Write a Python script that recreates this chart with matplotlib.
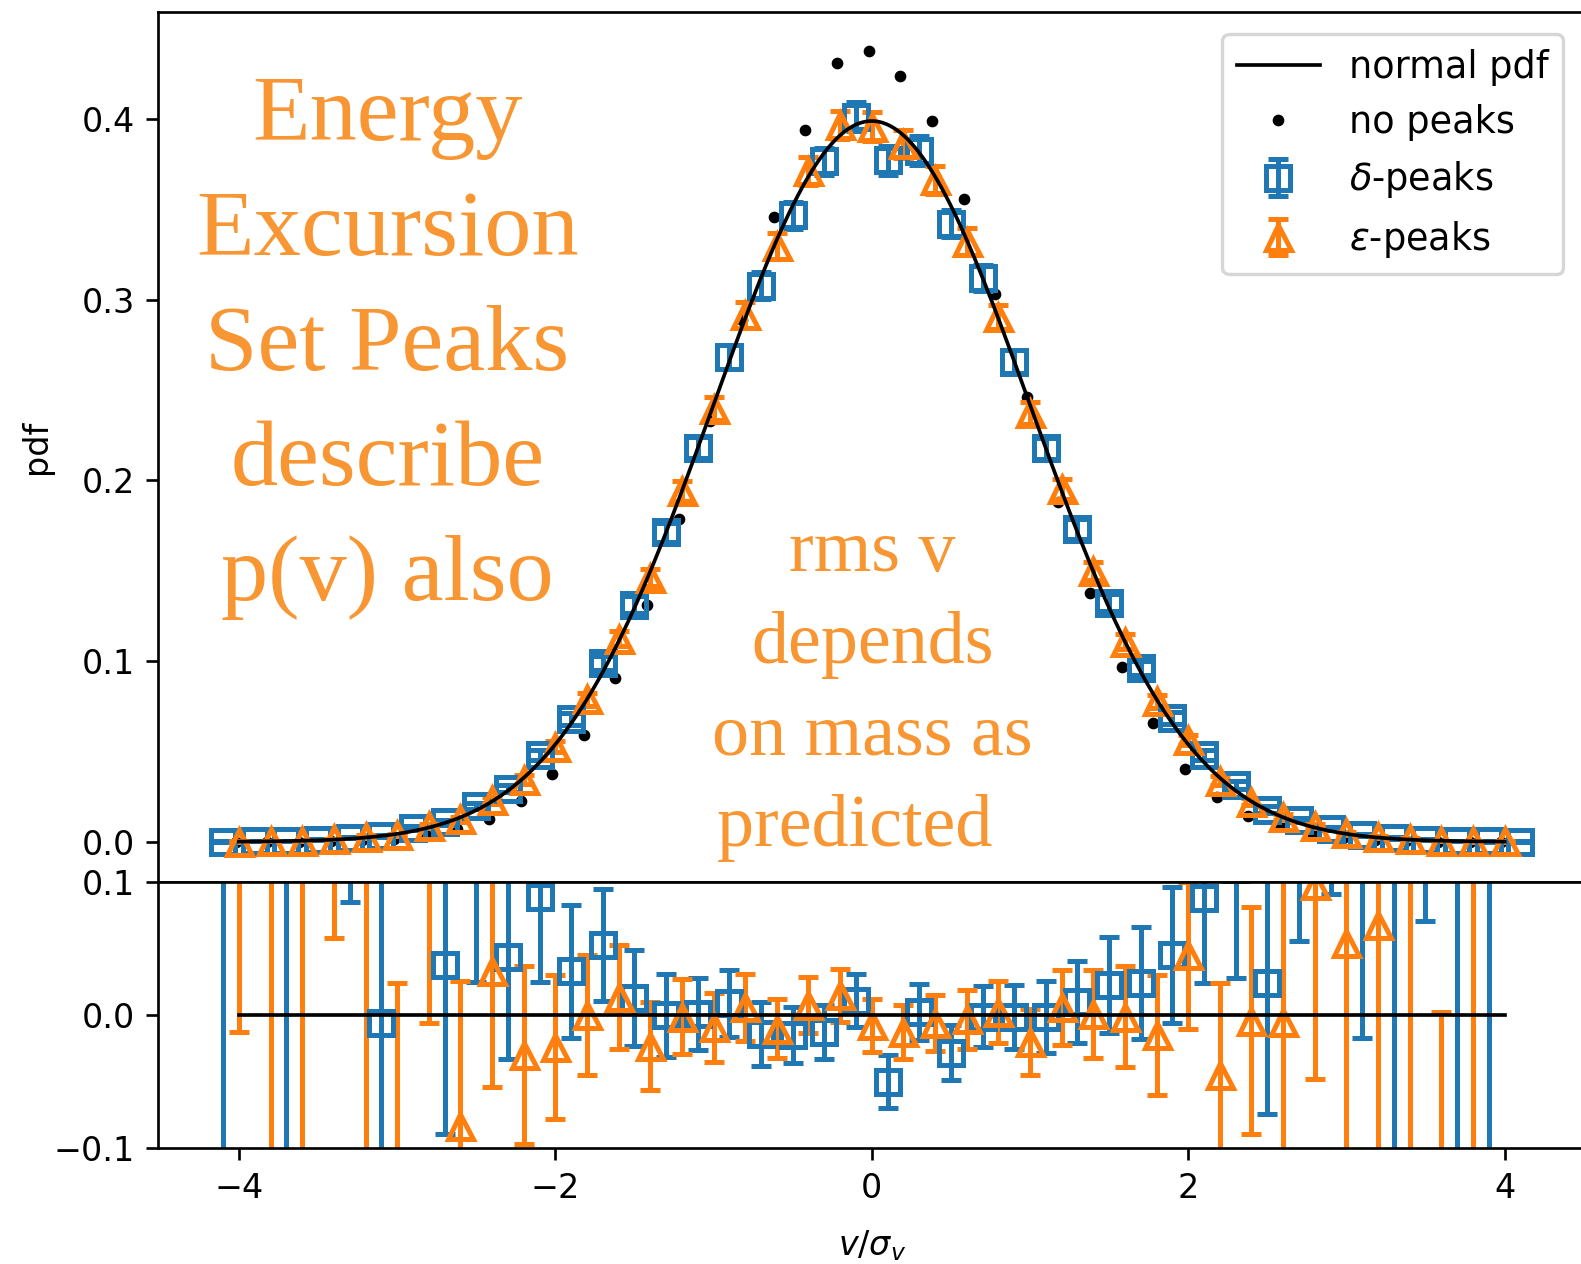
import numpy as np
import matplotlib.pyplot as plt

# delta-peaks: bin centres, pdf, relative residual and its error
delta_x = [-4.1, -3.9, -3.7, -3.5, -3.3, -3.1, -2.9, -2.7, -2.5, -2.3, -2.1,
           -1.9, -1.7, -1.5, -1.3, -1.1, -0.9, -0.7, -0.5, -0.3, -0.1,
           0.1, 0.3, 0.5, 0.7, 0.9, 1.1, 1.3, 1.5, 1.7, 1.9,
           2.1, 2.3, 2.5, 2.7, 2.9, 3.1, 3.3, 3.5, 3.7, 3.9, 4.1]
delta_pdf = [0.000134, 0.000318, 0.000531, 0.00126, 0.00224, 0.00325, 0.00774,
             0.0108, 0.0196, 0.0295, 0.0479, 0.0678, 0.0990, 0.1312, 0.1714,
             0.2181, 0.2685, 0.3079, 0.3468, 0.3766, 0.4014, 0.3772, 0.3824,
             0.3422, 0.3120, 0.2658, 0.2177, 0.1731, 0.1324, 0.0963, 0.0686,
             0.0479, 0.0314, 0.0179, 0.0122, 0.00732, 0.00376, 0.00206,
             0.00115, 0.00051, 0.000259, 0.000170]
delta_res = [0.50, 0.60, 0.25, 0.45, 0.30, -0.006, 0.30, 0.038, 0.12, 0.044,
             0.089, 0.033, 0.053, 0.013, 0.0, 0.001, 0.009, -0.014, -0.015,
             -0.0125, 0.011, -0.050, 0.0025, -0.028, -0.001, -0.001, -0.001,
             0.010, 0.0226, 0.024, 0.045, 0.088, 0.11, 0.024, 0.17, 0.23,
             0.15, 0.20, 0.32, 0.20, 0.30, 0.90]
delta_err = [0.90, 0.45, 0.50, 0.30, 0.215, 0.20, 0.18, 0.127, 0.095, 0.077,
             0.064, 0.050, 0.042, 0.036, 0.031, 0.027, 0.025, 0.024, 0.021,
             0.020, 0.020, 0.020, 0.021, 0.021, 0.023, 0.024, 0.027, 0.031,
             0.036, 0.042, 0.051, 0.064, 0.082, 0.098, 0.114, 0.139, 0.167,
             0.35, 0.249, 0.35, 0.50, 0.70]

# epsilon-peaks
eps_x = [-4.0, -3.8, -3.6, -3.4, -3.2, -3.0, -2.8, -2.6, -2.4, -2.2, -2.0,
         -1.8, -1.6, -1.4, -1.2, -1.0, -0.8, -0.6, -0.4, -0.2, 0.0,
         0.2, 0.4, 0.6, 0.8, 1.0, 1.2, 1.4, 1.6, 1.8, 2.0,
         2.2, 2.4, 2.6, 2.8, 3.0, 3.2, 3.4, 3.6, 3.8, 4.0]
eps_pdf = [0.000188, 0.00038, 0.00049, 0.00154, 0.00286, 0.00377, 0.00895,
           0.01247, 0.02314, 0.03444, 0.0527, 0.0790, 0.1125, 0.1463, 0.1940,
           0.2398, 0.2914, 0.3299, 0.3711, 0.3969, 0.3959, 0.3861, 0.3661,
           0.3322, 0.2904, 0.2372, 0.1954, 0.1499, 0.1108, 0.0778, 0.0564,
           0.0339, 0.0223, 0.01353, 0.0087, 0.00467, 0.00254, 0.00154,
           0.000428, 0.000234, 0.000228]
eps_res = [0.40, 0.30, -0.20, 0.25, 0.20, -0.15, 0.13, -0.083, 0.033, -0.030,
           -0.024, 0.0, 0.014, -0.023, -0.001, -0.009, 0.006, -0.010, 0.0075,
           0.015, -0.0075, -0.0125, -0.006, -0.003, 0.0025, -0.020, 0.006,
           0.001, -0.001, -0.015, 0.045, -0.045, -0.004, -0.005, 0.098, 0.054,
           0.068, 0.25, -0.30, -0.20, 0.70]
eps_err = [0.4125, 0.50, 0.35, 0.192, 0.35, 0.174, 0.136, 0.109, 0.087, 0.067,
           0.054, 0.045, 0.039, 0.033, 0.028, 0.026, 0.025, 0.022, 0.021,
           0.020, 0.020, 0.020, 0.021, 0.022, 0.023, 0.025, 0.028, 0.033,
           0.038, 0.045, 0.055, 0.069, 0.085, 0.12, 0.146, 0.20, 0.25, 0.40,
           0.3025, 0.45, 0.50]

# no peaks (all field points)
nopeak_x = [-4.02, -3.82, -3.62, -3.42, -3.22, -3.02, -2.82, -2.62, -2.42,
            -2.22, -2.02, -1.82, -1.62, -1.42, -1.22, -1.02, -0.82, -0.62,
            -0.42, -0.22, -0.02, 0.18, 0.38, 0.58, 0.78, 0.98, 1.18, 1.38,
            1.58, 1.78, 1.98, 2.18, 2.38, 2.58, 2.78, 2.98, 3.18, 3.38, 3.58,
            3.78, 3.98]
nopeak_pdf = [0.00003, 0.00007, 0.00016, 0.00038, 0.00085, 0.0018, 0.0036,
              0.0069, 0.0125, 0.0225, 0.0376, 0.0590, 0.0905, 0.1310, 0.1785,
              0.2330, 0.2890, 0.3460, 0.3940, 0.4310, 0.4378, 0.4240, 0.3990,
              0.3560, 0.3030, 0.2460, 0.1880, 0.1380, 0.0970, 0.0660, 0.0402,
              0.0250, 0.0143, 0.0085, 0.0047, 0.0020, 0.00095, 0.00043,
              0.00018, 0.00007, 0.00003]


def normal_pdf(v):
    v = np.asarray(v, dtype=float)
    return np.exp(-0.5 * v ** 2) / np.sqrt(2 * np.pi)


blue = '#1f77b4'
orange = '#ff7f0e'
note = '#F79632'

fig = plt.figure(figsize=(1581 / 240, 1264 / 240), dpi=240)
ax = fig.add_axes([0.1001, 0.3021, 0.9026, 0.6883])
axr = fig.add_axes([0.1001, 0.0915, 0.9026, 0.2106])

vv = np.linspace(-4, 4, 300)
ax.plot(vv, normal_pdf(vv), color='k', lw=1.1, zorder=5, label='normal pdf')
ax.plot(nopeak_x, nopeak_pdf, '.', color='k', ms=5, label='no peaks')
ax.errorbar(delta_x, delta_pdf, yerr=np.array(delta_err) * normal_pdf(delta_x),
            fmt='s', color=blue, mfc='none', ms=7, mew=1.5, capsize=3,
            label=r'$\delta$-peaks')
ax.errorbar(eps_x, eps_pdf, yerr=np.array(eps_err) * normal_pdf(eps_x),
            fmt='^', color=orange, mfc='none', ms=7.5, mew=1.5, capsize=3,
            label=r'$\epsilon$-peaks')
ax.set_xlim(-4.51, 4.51)
ax.set_ylim(-0.0223, 0.4592)
ax.set_xticks([-4, -2, 0, 2, 4])
ax.tick_params(labelbottom=False)
ax.set_ylabel('pdf')
ax.yaxis.set_label_coords(-0.074, 0.5)
ax.legend(loc='upper right', borderaxespad=0.6, fontsize=11,
          handlelength=2.25)

axr.errorbar(delta_x, delta_res, yerr=delta_err, fmt='s', color=blue,
             mfc='none', ms=7, mew=1.5, capsize=3)
axr.errorbar(eps_x, eps_res, yerr=eps_err, fmt='^', color=orange,
             mfc='none', ms=7.5, mew=1.5, capsize=3)
axr.plot([-4, 4], [0, 0], color='k', lw=1.1, zorder=5)
axr.set_xlim(-4.51, 4.51)
axr.set_ylim(-0.1, 0.1)
axr.set_xticks([-4, -2, 0, 2, 4])
axr.set_yticks([-0.1, 0.0, 0.1])
axr.set_xlabel(r'$v/\sigma_v$', labelpad=7)

fig.text(0.245, 0.725, 'Energy\nExcursion\nSet Peaks\ndescribe\np(v) also',
         ha='center', va='center', fontsize=28.3, family='Liberation Serif',
         color=note, linespacing=1.46)
fig.text(0.552, 0.4535, 'rms v\ndepends\non mass as\npredicted  ',
         ha='center', va='center', fontsize=22.2, family='Liberation Serif',
         color=note, linespacing=1.46)

fig.savefig('out.png', dpi=240)
